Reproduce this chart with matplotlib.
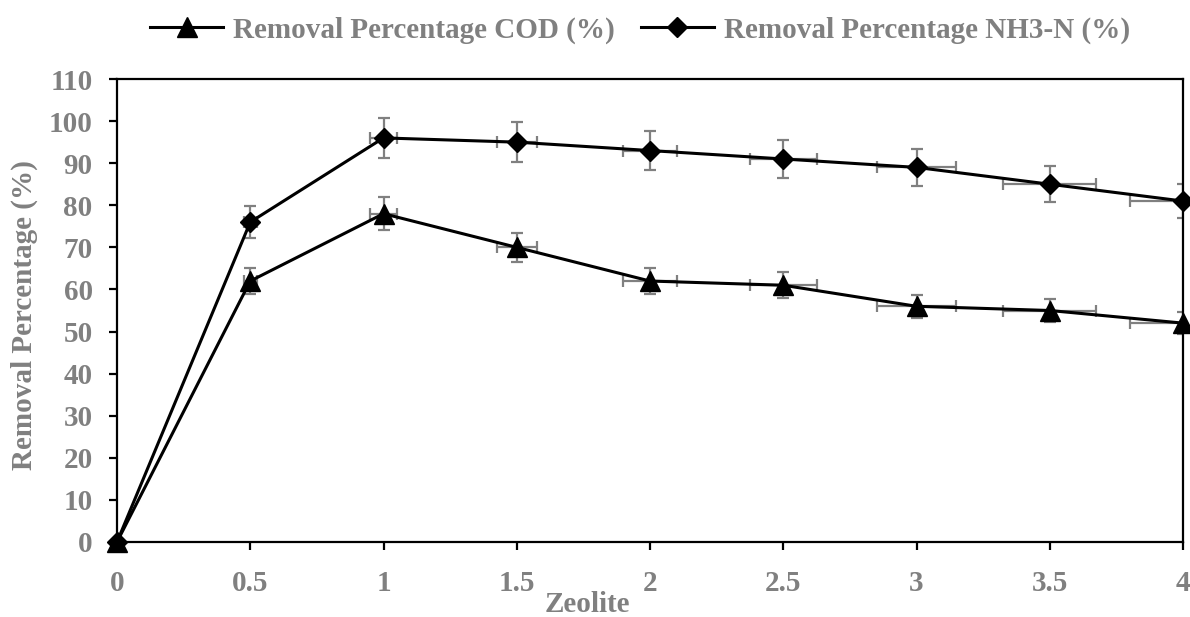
import matplotlib
matplotlib.use("Agg")
import matplotlib.pyplot as plt
from matplotlib.lines import Line2D

# Data
zeolite = [0, 0.5, 1, 1.5, 2, 2.5, 3, 3.5, 4]
cod = [0, 62, 78, 70, 62, 61, 56, 55, 52]
nh3 = [0, 76, 96, 95, 93, 91, 89, 85, 81]
cod_yerr = [0, 3.1, 3.9, 3.5, 3.1, 3.05, 2.8, 2.75, 2.6]
nh3_yerr = [0, 3.8, 4.8, 4.75, 4.65, 4.55, 4.45, 4.25, 4.05]
x_err = [0, 0.025, 0.05, 0.075, 0.1, 0.125, 0.15, 0.175, 0.2]
x_ticks = [0, 0.5, 1, 1.5, 2, 2.5, 3, 3.5, 4]
x_tick_labels = ["0", "0.5", "1", "1.5", "2", "2.5", "3", "3.5", "4"]
y_ticks = list(range(0, 111, 10))

labels = ["Removal Percentage COD (%)", "Removal Percentage NH3-N (%)"]

GRAY = "#808080"
FONT = "Liberation Serif"
FS = 21

plt.rcParams["font.family"] = [FONT, "DejaVu Serif"]
plt.rcParams["font.weight"] = "bold"

fig = plt.figure(figsize=(11.9, 6.17), dpi=100)
ax = fig.add_axes([117 / 1190, 1 - 542 / 617, (1183 - 117) / 1190, (542 - 79) / 617])

for ys, yerr in [(cod, cod_yerr), (nh3, nh3_yerr)]:
    ax.errorbar(zeolite, ys, yerr=yerr, xerr=x_err, fmt="none", ecolor=GRAY,
                elinewidth=1.6, capsize=4.5, capthick=1.6, zorder=2)

ax.plot(zeolite, cod, color="black", lw=2.2, marker="^", markersize=14,
        markerfacecolor="black", markeredgecolor="black", clip_on=False, zorder=4)
ax.plot(zeolite, nh3, color="black", lw=2.2, marker="D", markersize=10,
        markerfacecolor="black", markeredgecolor="black", clip_on=False, zorder=4)

ax.set_xlim(0, 4)
ax.set_ylim(0, 110)
ax.set_xticks(x_ticks)
ax.set_xticklabels(x_tick_labels)
ax.set_yticks(y_ticks)

for s in ax.spines.values():
    s.set_linewidth(1.6)
    s.set_color("black")

ax.tick_params(axis="both", direction="out", length=5.5, width=1.6, color="black",
               labelsize=FS, labelcolor=GRAY)
ax.tick_params(axis="x", pad=15)
ax.tick_params(axis="y", pad=12)
for t in ax.get_xticklabels() + ax.get_yticklabels():
    t.set_fontweight("bold")

ax.set_xlabel("Zeolite", fontsize=FS, fontweight="bold", color=GRAY)
ax.xaxis.set_label_coords(0.441, -0.134)
ax.xaxis.label.set_va("center")
ax.set_ylabel("Removal Percentage (%)", fontsize=FS, fontweight="bold", color=GRAY)
ax.yaxis.set_label_coords(-0.087, 0.49)
ax.yaxis.label.set_va("center")

handles = [
    Line2D([], [], color="black", lw=2.2, marker="^", markersize=14),
    Line2D([], [], color="black", lw=2.2, marker="D", markersize=10),
]
leg = fig.legend(handles, labels, loc="center", bbox_to_anchor=(640 / 1190, 1 - 30 / 617),
                 ncol=2, frameon=False, handlelength=2.5,
                 handletextpad=0.34, columnspacing=0.9,
                 prop={"family": [FONT, "DejaVu Serif"], "weight": "bold", "size": FS})
for t in leg.get_texts():
    t.set_color(GRAY)

fig.savefig("out.png", dpi=100)
